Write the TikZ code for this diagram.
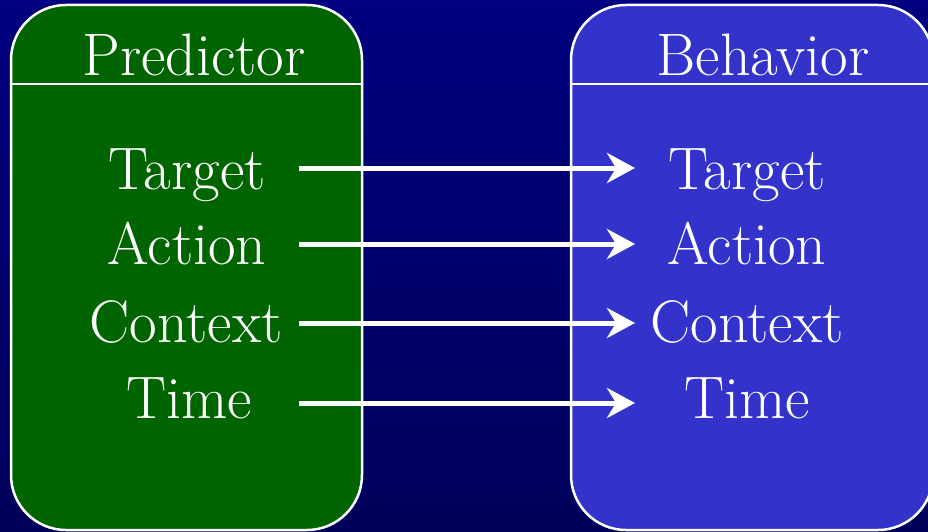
\documentclass[tikz,border=0pt]{standalone}
\usetikzlibrary{arrows.meta}
\definecolor{navytop}{RGB}{0,0,128}
\definecolor{navybot}{RGB}{0,0,90}
\definecolor{predgreen}{RGB}{0,100,0}
\definecolor{behblue}{RGB}{51,51,204}
\tikzset{
	panel/.style={draw=white,line width=2.5pt,rounded corners=55pt},
	word/.style={text=white,anchor=base,inner sep=0pt,font=\fontsize{60}{70}\selectfont},
	link/.style={draw=white,line width=5pt,-{Stealth[length=28pt,width=30pt,inset=9pt]}}
}
\begin{document}
\begin{tikzpicture}[x=1pt,y=-1pt]
		% background
		\useasboundingbox (0,0) rectangle (928,532);
		\shade[top color=navytop,bottom color=navybot] (0,0) rectangle (928,532);
		% boxes
		\fill[predgreen,panel] (11,5) rectangle (362,530);
		\fill[behblue,panel] (571,5) rectangle (933,530);
		\draw[white,line width=2.5pt] (11,84)--(362,84);
		\draw[white,line width=2.5pt] (571,84)--(933,84);
		% headings
		\node[word] (pHead) at (194,76) {Predictor};
		\node[word] (bHead) at (763,76) {Behavior};
		% left column
		\node[word] (pTarget) at (187,189) {Target};
		\node[word] (pAction) at (187,264) {Action};
		\node[word] (pContext) at (186,342) {Context};
		\node[word] (pTime) at (189,418) {Time};
		% right column
		\node[word] (bTarget) at (747,189) {Target};
		\node[word] (bAction) at (747,264) {Action};
		\node[word] (bContext) at (747,342) {Context};
		\node[word] (bTime) at (747,418) {Time};
		% arrows
		\coordinate (tail) at (299,0);
		\coordinate (head) at (635,0);
		\draw[link] ([yshift=21pt]pTarget.base -| tail) -- ([yshift=21pt]bTarget.base -| head);
		\draw[link] ([yshift=20pt]pAction.base -| tail) -- ([yshift=20pt]bAction.base -| head);
		\draw[link] ([yshift=19pt]pContext.base -| tail) -- ([yshift=19pt]bContext.base -| head);
		\draw[link] ([yshift=15pt]pTime.base -| tail) -- ([yshift=15pt]bTime.base -| head);
\end{tikzpicture}
\end{document}
